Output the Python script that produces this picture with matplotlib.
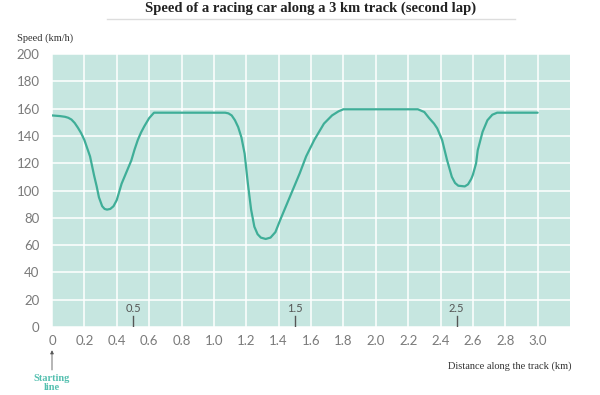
import matplotlib
matplotlib.use("Agg")
import matplotlib.pyplot as plt

# distance (km) and speed (km/h)
distance = [0.0, 0.05, 0.08, 0.1, 0.12, 0.14, 0.16, 0.18, 0.2, 0.235, 0.26, 0.276, 0.29, 0.31,
            0.325, 0.34, 0.36, 0.38, 0.4, 0.43, 0.46, 0.49, 0.51, 0.53, 0.55, 0.57, 0.6, 0.63,
            0.8, 1.0, 1.07, 1.09, 1.11, 1.13, 1.15, 1.17, 1.19, 1.21, 1.23, 1.25, 1.27, 1.29,
            1.32, 1.35, 1.38, 1.41, 1.47, 1.53, 1.57, 1.62, 1.68, 1.73, 1.77, 1.8, 2.0, 2.26,
            2.3, 2.33, 2.36, 2.38, 2.41, 2.44, 2.47, 2.49, 2.51, 2.55, 2.57, 2.59, 2.6, 2.62,
            2.63, 2.66, 2.69, 2.72, 2.75, 2.8, 3.0]
speed = [155, 154.5, 154, 153.3, 152, 149.5, 146, 142, 137, 125, 111, 103, 95, 88.5,
         86.5, 86, 86.5, 88.5, 93, 105, 113.5, 122, 130, 137, 142.5, 147, 153, 157,
         157, 157, 157, 156.5, 155, 151.5, 146.5, 139, 127, 105, 86, 73.5, 68, 65.5,
         64.5, 65.5, 69.5, 78.5, 95.5, 112.5, 125, 137, 149, 155, 158, 159.5, 159.5, 159.5,
         157.5, 153, 149, 145.5, 137, 122.5, 110, 105.5, 103.5, 103, 104.5, 108.5, 111.5, 120,
         129.5, 143, 151.5, 155.5, 157, 157, 157]

xticks = [0, 0.2, 0.4, 0.6, 0.8, 1.0, 1.2, 1.4, 1.6, 1.8, 2.0, 2.2, 2.4, 2.6, 2.8, 3.0]
xlabels = ["0", "0.2", "0.4", "0.6", "0.8", "1.0", "1.2", "1.4", "1.6", "1.8", "2.0",
           "2.2", "2.4", "2.6", "2.8", "3.0"]
yticks = [0, 20, 40, 60, 80, 100, 120, 140, 160, 180, 200]
markers = [0.5, 1.5, 2.5]

bg = "#c6e6e0"
line_col = "#3fae98"
grey = "#7a7a7a"

fig = plt.figure(figsize=(6, 3.95), dpi=100)
ax = fig.add_axes([52/600, 1-327/395, 518/600, 273/395])
ax.set_facecolor(bg)
ax.plot(distance, speed, color=line_col, lw=1.6, solid_capstyle="round", solid_joinstyle="round")

ax.set_xlim(0, 3.2)
ax.set_ylim(0, 200)
ax.set_xticks(xticks)
ax.set_xticklabels(xlabels)
ax.set_yticks(yticks)
ax.grid(True, color="white", lw=1.1)
ax.set_axisbelow(True)
for s in ax.spines.values():
    s.set_visible(False)
ax.tick_params(length=0, labelsize=9.5, labelcolor=grey)
ax.tick_params(axis="x", pad=6)
ax.tick_params(axis="y", pad=9)
for lab in ax.get_xticklabels() + ax.get_yticklabels():
    lab.set_family("Lato")
    lab.set_color(grey)

# half-km markers inside the plot
for m in markers:
    ax.plot([m, m], [0, 8], color="#555555", lw=1)
    ax.text(m, 9.5, str(m), ha="center", va="bottom", fontsize=8, color="#555555",
            family="Lato")

# starting line arrow
ax.annotate("", xy=(0, -17), xytext=(0, -31.5), annotation_clip=False,
            arrowprops=dict(arrowstyle="-|>", color="#555555", lw=0.6, mutation_scale=5,
                            shrinkA=0, shrinkB=0))
fig.text(52/600, 1-383/395, "Starting\nline", ha="center", va="center", fontsize=7.5,
         color="#55c0b0", family="Liberation Serif", fontweight="bold", linespacing=1.05)

fig.text(17/600, 1-38/395, "Speed (km/h)", ha="left", va="center", fontsize=7.5,
         color="#333333", family="Liberation Serif")
fig.text(571/600, 1-366/395, "Distance along the track (km)", ha="right", va="center",
         fontsize=7.5, color="#333333", family="Liberation Serif")

fig.text(311/600, 1-8/395, "Speed of a racing car along a 3 km track (second lap)",
         ha="center", va="center", fontsize=10.5, fontweight="bold",
         family="Liberation Serif", color="#222222")
fig.add_artist(plt.Line2D([107/600, 515/600], [1-19/395, 1-19/395], color="#dddddd", lw=1))

fig.savefig("out.png", dpi=100, facecolor="white")
